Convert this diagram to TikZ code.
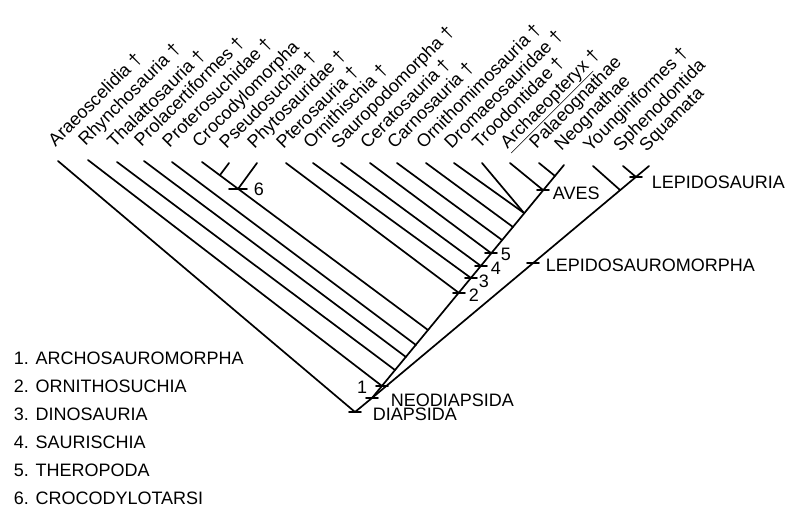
\documentclass[tikz,border=0pt]{standalone}
\usepackage{fontspec}
\setmainfont{Liberation Sans}
\begin{document}
\begin{tikzpicture}[x=1pt, y=-1pt, line width=1.7pt, line cap=round,
  font=\fontsize{18}{20}\selectfont,
  taxon/.style={rotate=45, anchor=base west, inner sep=0pt},
  clade/.style={anchor=west, inner sep=0pt},
  keyline/.style={anchor=base west, inner sep=0pt}]

\useasboundingbox (0,0) rectangle (787,506);

% ---- Nodes on the two spines ----
\coordinate (root) at (355,412);
\coordinate (neo)  at (372,398);
\coordinate (n1)   at (382,386);
\coordinate (jthal) at (395,370);
\coordinate (jprol) at (406,357);
\coordinate (jprot) at (416,345);
\coordinate (jcroc) at (428,330);
\coordinate (n2)   at (459,293);
\coordinate (n3)   at (471,278);
\coordinate (n4)   at (481,266);
\coordinate (n5)   at (491,253);
\coordinate (jcarn) at (502,240);
\coordinate (jorni) at (513,227);
\coordinate (jdrom) at (524,213);
\coordinate (aves) at (543,190);
\coordinate (jpal) at (555,176);
\coordinate (lepm) at (533,263);
\coordinate (jyou) at (620,190);
\coordinate (lep)  at (636,177);

% ---- Tips with their names ----
\foreach \x/\y/\name/\lab in {
  58/161/araeo/Araeoscelidia †, 88/160/rhyn/Rhynchosauria †,
  117/162/thal/Thalattosauria †, 144/161/prol/Prolacertiformes †,
  172/162/prot/Proterosuchidae †, 202/162/croc/Crocodylomorpha,
  229/163/pseu/Pseudosuchia †, 257/163/phyt/Phytosauridae †,
  286/163/pter/Pterosauria †, 313/163/orni/Ornithischia †,
  341/163/saur/Sauropodomorpha †, 370/163/cera/Ceratosauria †,
  397/163/carn/Carnosauria †, 426/163/omim/Ornithomimosauria †,
  454/163/drom/Dromaeosauridae †, 482/163/troo/Troodontidae †,
  510/163/arch/\underline{Archaeopteryx} †, 539/163/pala/Palaeognathae,
  564/165/neog/Neognathae, 593/166/youn/Younginiformes †,
  623/166/sphe/Sphenodontida, 649/166/squa/Squamata} {
  \coordinate (\name) at (\x,\y);
  \node[taxon] (l\name) at (\x-3,\y-13) {\lab};
}

% Crocodylotarsi nodes on the crocodylomorph line
\coordinate (jpseu) at (220,175);
\coordinate (n6) at (238,189);

% ---- Spines ----
\draw (root) -- (neo) -- (neog);
\draw (neo) -- (squa);

% ---- Branches ----
\foreach \a/\b in {araeo/root, rhyn/n1, thal/jthal, prol/jprol, prot/jprot,
  croc/jcroc, pseu/jpseu, phyt/n6, pter/n2, orni/n3, saur/n4, cera/n5,
  carn/jcarn, omim/jorni, drom/jdrom, troo/jdrom, arch/aves, pala/jpal,
  youn/jyou, sphe/lep}
  \draw (\a) -- (\b);

% ---- Ticks ----
\foreach \c in {root, neo, n1, n2, n3, n4, n5, aves, lepm, lep}
  \draw ([xshift=-6pt]\c) -- ([xshift=6pt]\c);
\draw ([xshift=-9pt]n6) -- ([xshift=9pt]n6);

% ---- Clade labels ----
\node[clade, anchor=east] (k1) at (368,387) {1};
\node[clade] (k2) at (468,295) {2};
\node[clade] (k3) at (478,281) {3};
\node[clade] (k4) at (490,268) {4};
\node[clade] (k5) at (500,254) {5};
\node[clade] (k6) at (253,189) {6};
\node[clade] (kaves) at (552,193) {AVES};
\node[clade] (klep) at (651,182) {LEPIDOSAURIA};
\node[clade] (klepm) at (545,265) {LEPIDOSAUROMORPHA};
\node[clade] (kneo) at (390,400) {NEODIAPSIDA};
\node[clade] (kdia) at (372,414) {DIAPSIDA};

% ---- Key ----
\foreach \t [count=\i] in {ARCHOSAUROMORPHA, ORNITHOSUCHIA, DINOSAURIA,
  SAURISCHIA, THEROPODA, CROCODYLOTARSI}
  \node[keyline] (key\i) at (13,364+28*\i-28) {\i. \t};

\end{tikzpicture}
\end{document}
